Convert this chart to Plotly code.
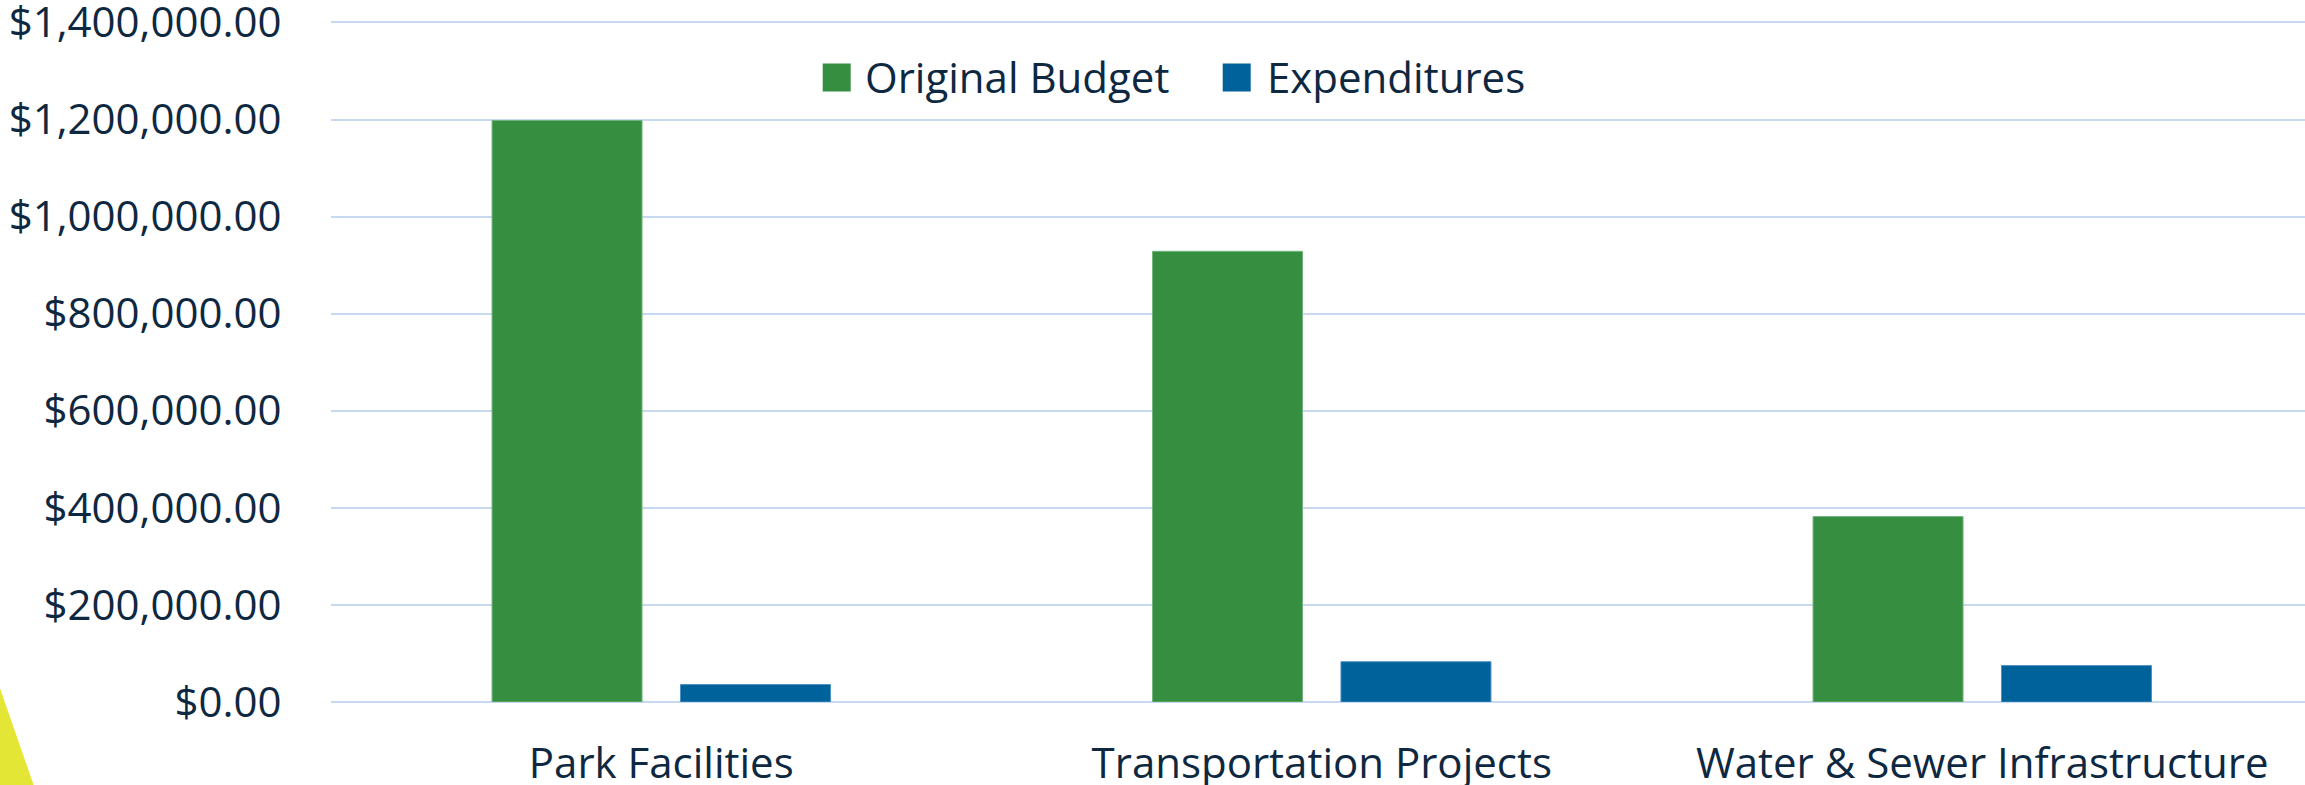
import plotly.graph_objects as go

categories = ["Park Facilities", "Transportation Projects", "Water & Sewer Infrastructure"]
original_budget = [1198000, 928500, 382000]
expenditures = [35900, 83000, 75000]
series_names = ["Original Budget", "Expenditures"]
y_ticks = [0, 200000, 400000, 600000, 800000, 1000000, 1200000, 1400000]

GREEN = "#368f41"
BLUE = "#00629b"
TEXT = "#0e2841"
GRID = "#c6d9f0"
FONT = "Open Sans"

W, H = 2305, 785
L, T, B = 331, 21, 83
plot_w = W - L
plot_h = H - T - B
cat_px = 660.5
y_top = 1403000

def px_x(px):
    return (px - L) / plot_w

def px_y(py):
    return (H - B - py) / plot_h

fig = go.Figure()
fig.add_trace(go.Bar(x=categories, y=original_budget, name=series_names[0],
                     marker=dict(color=GREEN, line=dict(color="#6fb37a", width=1)),
                     showlegend=False))
fig.add_trace(go.Bar(x=categories, y=expenditures, name=series_names[1],
                     marker=dict(color=BLUE, line=dict(color="#4a8fc0", width=1)),
                     showlegend=False))

shapes = []
annotations = []
# manual legend
leg_items = [(series_names[0], GREEN, 822.7, 863), (series_names[1], BLUE, 1222.7, 1265)]
for name, col, sx, tx in leg_items:
    shapes.append(dict(type="rect", xref="paper", yref="paper",
                       x0=px_x(sx), x1=px_x(sx + 28), y0=px_y(91.5), y1=px_y(63.5),
                       fillcolor=col, line=dict(width=0), layer="above"))
    annotations.append(dict(text=name, xref="paper", yref="paper", x=px_x(tx), y=px_y(77),
                            xanchor="left", yanchor="middle", showarrow=False,
                            font=dict(family=FONT, size=42, color=TEXT)))
# yellow decorative corner
shapes.append(dict(type="path", xref="paper", yref="paper",
                   path=f"M {px_x(-5)},{px_y(674)} L {px_x(34)},{px_y(786)} L {px_x(-5)},{px_y(786)} Z",
                   fillcolor="#e4e636", line=dict(width=0), layer="above"))

fig.update_layout(
    width=W, height=H,
    margin=dict(l=L, r=0, t=T, b=B, pad=0, autoexpand=False),
    paper_bgcolor="white", plot_bgcolor="white",
    barmode="group", bargap=0.4295, bargroupgap=0.204,
    font=dict(family=FONT, size=42, color=TEXT),
    shapes=shapes, annotations=annotations,
    showlegend=False,
)
fig.update_xaxes(range=[-0.5, -0.5 + plot_w / cat_px], showgrid=False, showline=False,
                 zeroline=False, automargin=False,
                 ticks="outside", ticklen=25, tickcolor="white",
                 tickfont=dict(family=FONT, size=42, color=TEXT))
fig.update_yaxes(range=[0, y_top], tickvals=y_ticks, tickformat="$,.2f",
                 showgrid=True, gridcolor=GRID, gridwidth=2,
                 zeroline=True, zerolinecolor=GRID, zerolinewidth=2,
                 showline=False, automargin=False, ticklabeloverflow="allow",
                 ticks="outside", ticklen=20, tickcolor="white", ticklabelstandoff=20,
                 tickfont=dict(family=FONT, size=42, color=TEXT))

fig.write_html("out.html", config={"displayModeBar": False},
               post_script="document.body.style.margin='0';document.body.style.padding='0';")
